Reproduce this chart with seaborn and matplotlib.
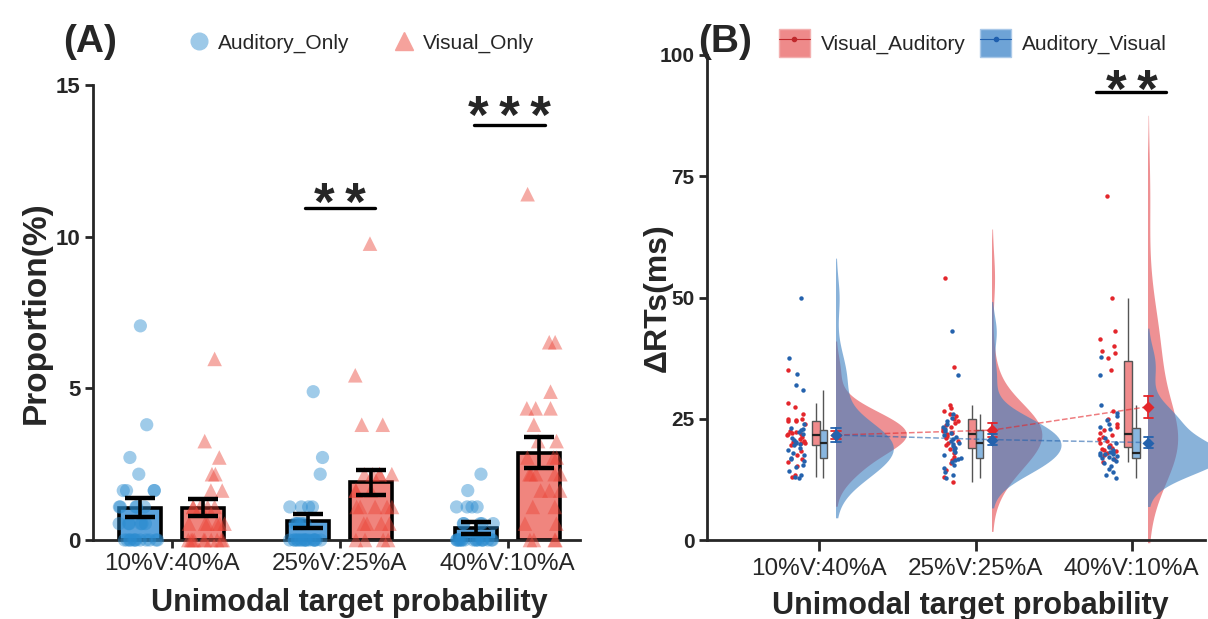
import numpy as np
import pandas as pd
import matplotlib
matplotlib.use("Agg")
import matplotlib.pyplot as plt
import seaborn as sns
from matplotlib.patches import Rectangle, Patch
from matplotlib.lines import Line2D
from matplotlib.legend_handler import HandlerTuple

np.random.seed(3)

# ---------------- data ----------------
conditions = ["10%V:40%A", "25%V:25%A", "40%V:10%A"]
groups_A = ["Auditory_Only", "Visual_Only"]
groups_B = ["Visual_Auditory", "Auditory_Visual"]

# Panel A: bar means / SEM (%)
auditory_mean = [1.06, 0.63, 0.40]
auditory_sem = [0.31, 0.23, 0.20]
visual_mean = [1.06, 1.90, 2.88]
visual_sem = [0.28, 0.42, 0.51]

# Panel A: individual proportions (%)
auditory_10 = [7.06, 3.80, 2.72, 2.17, 1.63, 1.63, 1.63, 1.63, 1.09, 1.09, 1.09, 1.09, 1.09,
               0.54, 0.54, 0.54, 0.54, 0.54, 0.54, 0, 0, 0, 0, 0, 0, 0, 0, 0, 0, 0, 0]
auditory_25 = [4.89, 2.72, 2.17, 1.09, 1.09, 1.09, 1.09, 0.54, 0.54, 0.54, 0.54, 0.54, 0.54,
               0, 0, 0, 0, 0, 0, 0, 0, 0, 0, 0, 0, 0, 0, 0, 0, 0]
auditory_40 = [2.17, 1.63, 1.09, 1.09, 1.09, 1.09, 0.54, 0.54, 0.54, 0.54, 0.54,
               0, 0, 0, 0, 0, 0, 0, 0, 0, 0, 0, 0, 0, 0, 0, 0, 0, 0]
visual_10 = [5.97, 3.26, 2.72, 2.17, 2.17, 1.63, 1.63, 1.09, 1.09, 1.09, 1.09, 1.09,
             0.54, 0.54, 0.54, 0.54, 0.54, 0.54, 0, 0, 0, 0, 0, 0, 0, 0, 0, 0]
visual_25 = [9.77, 5.43, 3.80, 3.80, 2.17, 2.17, 2.17, 2.17, 2.17, 1.63, 1.63, 1.63,
             1.09, 1.09, 1.09, 1.09, 1.09, 0.54, 0.54, 0.54, 0.54, 0, 0, 0, 0]
visual_40 = [11.40, 6.52, 6.52, 4.89, 4.34, 4.34, 4.34, 3.80, 3.26, 3.26, 2.72, 2.72, 2.72,
             2.17, 2.17, 2.17, 2.17, 2.17, 1.63, 1.63, 1.63, 1.09, 1.09, 0.54, 0.54, 0, 0, 0, 0]

# Panel B: delta RTs (ms)
va_10 = [13.0, 13.5, 15.2, 16.0, 16.8, 17.5, 18.4, 19.5, 19.9, 20.0, 20.2, 20.5, 20.8, 21.2, 21.6,
         21.9, 21.9, 22.0, 22.3, 22.5, 24.0, 24.5, 24.9, 24.6, 24.8, 25.0, 25.9, 27.5, 28.2, 35.0]
av_10 = [12.8, 13.0, 13.5, 14.2, 15.0, 15.5, 16.3, 16.8, 17.0, 17.5, 18.0, 18.5, 19.0, 19.5, 19.8,
         20.0, 20.3, 20.6, 21.0, 21.8, 22.2, 22.6, 22.8, 23.0, 24.0, 31.0, 32.0, 34.3, 37.6, 49.9]
va_25 = [11.9, 13.0, 14.5, 15.8, 16.5, 17.2, 18.0, 18.8, 19.1, 19.5, 20.0, 20.5, 21.0, 21.4, 21.8,
         22.0, 22.4, 22.8, 23.2, 23.8, 24.2, 24.6, 25.0, 25.5, 26.0, 26.5, 27.2, 27.8, 35.7, 54.0]
av_25 = [12.8, 13.5, 14.0, 14.8, 15.5, 16.0, 16.5, 16.8, 17.0, 17.6, 18.2, 18.6, 19.0, 19.4, 19.7,
         20.1, 20.4, 20.8, 21.2, 21.6, 22.0, 22.5, 22.8, 23.3, 24.0, 24.6, 25.2, 25.9, 34.0, 43.0]
va_40 = [16.0, 16.8, 17.5, 18.0, 18.3, 18.6, 18.8, 19.0, 19.3, 19.6, 20.0, 20.4, 20.8, 21.2, 21.7,
         22.1, 22.6, 23.2, 24.0, 25.0, 26.5, 35.0, 37.5, 38.5, 39.0, 40.0, 41.5, 43.0, 49.8, 71.0]
av_40 = [12.8, 13.5, 14.0, 14.6, 15.2, 15.8, 16.3, 16.8, 17.0, 17.2, 17.4, 17.6, 17.7, 17.8, 17.85,
         17.95, 18.2, 18.6, 19.2, 20.0, 21.0, 22.8, 23.2, 24.0, 24.8, 25.5, 26.2, 27.9, 34.0, 37.8]

# ---------------- style ----------------
sns.set_theme(style="ticks")
plt.rcParams["font.family"] = ["Liberation Sans", "DejaVu Sans"]
plt.rcParams["axes.linewidth"] = 2.0

W, H = 1208, 619
fig = plt.figure(figsize=(W / 100, H / 100), dpi=100)

def fx(px):
    return px / W

def fy(py):
    return 1 - py / H

axA = fig.add_axes([fx(93), fy(540), fx(580 - 93), (540 - 85) / H])
axB = fig.add_axes([fx(707), fy(540), fx(1205 - 707), (540 - 55) / H])

blue_pt, red_pt = "#2b8cd0", "#eb4539"
blue_bar, red_bar = "#5aa2dc", "#f0857e"

# ---------------- Panel A ----------------
bars = pd.DataFrame({
    "cond": conditions * 2,
    "group": [groups_A[0]] * 3 + [groups_A[1]] * 3,
    "value": auditory_mean + visual_mean,
})
sns.barplot(data=bars, x="cond", y="value", hue="group", hue_order=groups_A, order=conditions,
            palette=[blue_bar, red_bar], width=0.75, gap=1 / 3, saturation=1,
            edgecolor="black", linewidth=2.6, errorbar=None, legend=False, ax=axA)

rows = []
for cond, a, v in zip(conditions, [auditory_10, auditory_25, auditory_40],
                      [visual_10, visual_25, visual_40]):
    rows += [(cond, groups_A[0], x) for x in a]
    rows += [(cond, groups_A[1], x) for x in v]
ptsA = pd.DataFrame(rows, columns=["cond", "group", "value"])

for g, mk, sz in [(groups_A[0], "o", 9.5), (groups_A[1], "^", 10.5)]:
    sns.stripplot(data=ptsA[ptsA.group == g], x="cond", y="value", hue="group",
                  hue_order=groups_A, order=conditions, palette=[blue_pt, red_pt],
                  dodge=True, jitter=0.24, marker=mk, size=sz, alpha=0.45,
                  linewidth=0, legend=False, ax=axA, zorder=3, clip_on=False)

xa = np.arange(3)
for means, sems, off in [(auditory_mean, auditory_sem, -0.1875), (visual_mean, visual_sem, 0.1875)]:
    axA.errorbar(xa + off, means, yerr=sems, fmt="none", ecolor="black",
                 elinewidth=2.6, capsize=11, capthick=3.2, zorder=5)

axA.set_xlim(-0.47, 2.43)
axA.set_ylim(0, 15)
axA.set_yticks([0, 5, 10, 15])
axA.set_xticks(xa)
axA.set_xticklabels(conditions, fontsize=17.5)
for t in axA.get_yticklabels():
    t.set_fontweight("bold")
    t.set_fontsize(16)
axA.tick_params(axis="both", direction="out", length=6, width=2, pad=3)
axA.set_xlabel("Unimodal target probability", fontsize=22, fontweight="bold")
axA.xaxis.set_label_coords((349 - 93) / 487, -0.105)
axA.set_ylabel("Proportion(%)", fontsize=24, fontweight="bold")
axA.yaxis.set_label_coords(-0.085, 0.5)
sns.despine(ax=axA)

# significance A
star_kw = dict(ha="center", va="baseline", fontsize=38, fontweight="bold")
axA.plot([0.79, 1.21], [10.95, 10.95], color="black", lw=2.4)
axA.text(1.0, 10.55, "*\u2009*", **star_kw)
axA.plot([1.80, 2.22], [13.68, 13.68], color="black", lw=2.4)
axA.text(2.01, 13.42, "*\u2009*\u2009*", **star_kw)

hA = [Line2D([], [], marker="o", linestyle="none", color="#9dc9e8", markersize=12),
      Line2D([], [], marker="^", linestyle="none", color="#f5a29c", markersize=13)]
fig.legend(hA, groups_A, loc="center left", bbox_to_anchor=(fx(168), fy(43)), ncol=2,
           frameon=False, fontsize=15, handletextpad=0.3, columnspacing=2.0, handlelength=1.2)

fig.text(fx(63), fy(42), "(A)", fontsize=28, fontweight="bold", va="center", ha="left")
fig.text(fx(698), fy(42), "(B)", fontsize=28, fontweight="bold", va="center", ha="left")

# ---------------- Panel B ----------------
def longdf(lists):
    r = []
    for i, vals in enumerate(lists):
        r += [(i, v) for v in vals]
    return pd.DataFrame(r, columns=["pos", "rt"])

va = longdf([va_10, va_25, va_40])
av = longdf([av_10, av_25, av_40])

red_v, blue_v = "#e8676b", "#3b7fc1"
red_box, blue_box = "#f08b8c", "#88b6df"
red_m, blue_m = "#e3262b", "#2462ad"

V_OFF = 0.107
for df, col, alpha, width, bwa in [(va, red_v, 0.72, 0.90, 1.3), (av, blue_v, 0.6, 0.95, 1.0)]:
    n0 = len(axB.collections)
    sns.violinplot(x=df.pos + V_OFF, y=df.rt, native_scale=True, orient="x", width=width,
                   density_norm="area", inner=None, cut=2, bw_adjust=bwa, linewidth=0,
                   color=col, saturation=1, alpha=alpha, ax=axB)
    for coll in axB.collections[n0:]:
        paths = coll.get_paths()
        if not paths:
            continue
        xs = np.concatenate([p.vertices[:, 0] for p in paths])
        xc = (xs.min() + xs.max()) / 2
        coll.set_clip_path(Rectangle((xc, -500), 5, 2000, transform=axB.transData))

for df, col, off in [(va, red_box, -0.024), (av, blue_box, 0.026)]:
    sns.boxplot(x=df.pos + off, y=df.rt, native_scale=True, orient="x", width=0.05,
                showfliers=False, showcaps=False, color=col, saturation=1, whis=1.5,
                linecolor="#555555", linewidth=1.0,
                medianprops=dict(color="#222222", linewidth=1.6), ax=axB)

for df, col in [(va, red_m), (av, blue_m)]:
    sns.stripplot(x=df.pos - 0.15, y=df.rt, native_scale=True, orient="x", jitter=0.06,
                  size=3.2, color=col, linewidth=0, ax=axB, zorder=3)

for df, col in [(va, red_m), (av, blue_m)]:
    sns.pointplot(x=df.pos + V_OFF, y=df.rt, native_scale=True, orient="x", errorbar=None,
                  color=col, marker="", linestyle="--", linewidth=1.1, alpha=0.6, ax=axB)
    sns.pointplot(x=df.pos + V_OFF, y=df.rt, native_scale=True, orient="x", errorbar="se",
                  color=col, marker="D", markersize=4.5, linestyle="none", capsize=0.06,
                  err_kws={"linewidth": 1.3, "linestyle": "-"}, ax=axB)

axB.set_xlim(-0.72, 2.47)
axB.set_ylim(0, 100)
axB.set_yticks([0, 25, 50, 75, 100])
axB.set_xticks(np.arange(3))
axB.set_xticklabels(conditions, fontsize=17.5)
for t in axB.get_yticklabels():
    t.set_fontweight("bold")
    t.set_fontsize(15)
axB.tick_params(axis="both", direction="out", length=6, width=2, pad=3)
axB.tick_params(axis="x", length=8, pad=5)
axB.set_xlabel("Unimodal target probability", fontsize=22, fontweight="bold")
axB.xaxis.set_label_coords((970 - 707) / 498, -0.105)
axB.set_ylabel("\u0394RTs(ms)", fontsize=23, fontweight="bold")
axB.yaxis.set_label_coords(-0.068, 0.5)
sns.despine(ax=axB)

axB.plot([1.77, 2.22], [92.4, 92.4], color="black", lw=2.4)
axB.text(2.0, 89.3, "*\u2009*", **star_kw)

hB = [(Patch(facecolor="#ee8a8a", edgecolor="#f3b0b0"),
       Line2D([], [], color="#c0282c", marker="o", markersize=3, lw=0.8)),
      (Patch(facecolor="#6ea3d6", edgecolor="#a9c8e8"),
       Line2D([], [], color="#1f5fae", marker="o", markersize=3, lw=0.8))]
fig.legend(hB, groups_B, loc="center left", bbox_to_anchor=(fx(760), fy(43)), ncol=2,
           frameon=False, fontsize=15, handletextpad=0.5, columnspacing=0.7,
           handlelength=1.5, handleheight=1.7,
           handler_map={tuple: HandlerTuple(ndivide=1, pad=0)})

fig.savefig("out.png", dpi=100)
